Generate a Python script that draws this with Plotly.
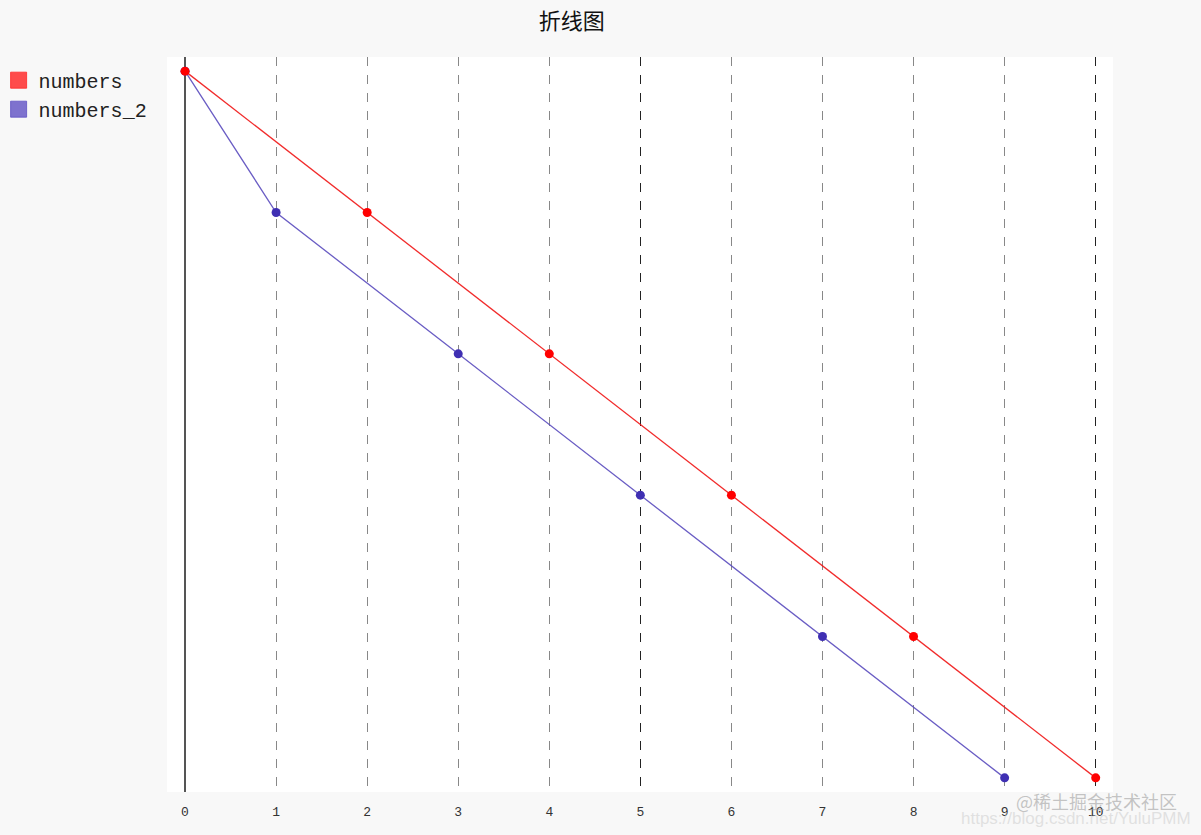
import plotly.graph_objects as go

# ---------- data ----------
title_text = "折线图"
series_names = ["numbers", "numbers_2"]
numbers_x = [0, 2, 4, 6, 8, 10]
numbers_y = [10, 8, 6, 4, 2, 0]
numbers_2_x = [0, 1, 3, 5, 7, 9]
numbers_2_y = [10, 8, 6, 4, 2, 0]
x_ticks = list(range(0, 11))
watermark_lines = ["@稀土掘金技术社区", "https://blog.csdn.net/YuluPMM"]

mono = "Liberation Mono"
red = "#ff0000"
blue = "#3f2fb3"

fig = go.Figure()

# blue first so the red point sits on top at the shared start
fig.add_trace(go.Scatter(
    x=numbers_2_x, y=numbers_2_y, mode="lines+markers", showlegend=False,
    line=dict(color="rgba(90,75,190,0.9)", width=1.3),
    marker=dict(color=blue, size=9),
))
fig.add_trace(go.Scatter(
    x=numbers_x, y=numbers_y, mode="lines+markers", showlegend=False,
    line=dict(color="rgba(240,20,20,0.9)", width=1.3),
    marker=dict(color=red, size=9),
))

# legend entries drawn as squares, like the original
for name, col, grp in [(series_names[0], "rgba(255,45,45,0.85)", "a"),
                       (series_names[1], "rgba(95,80,195,0.8)", "b")]:
    fig.add_trace(go.Scatter(
        x=[None], y=[None], mode="markers", name=name, legendgroup=grp,
        marker=dict(symbol="square", size=19, color=col,
                    line=dict(color=col, width=1)),
    ))

# dummy trace on the overlay axis so its major grid shows
fig.add_trace(go.Scatter(x=[0, 10], y=[0, 10], xaxis="x2", mode="none",
                         showlegend=False, hoverinfo="skip"))

fig.update_layout(
    width=1201, height=835,
    paper_bgcolor="#f8f8f8", plot_bgcolor="white",
    margin=dict(l=167, r=88, t=57, b=43, autoexpand=False),
    title=dict(text=title_text, x=0.476, xanchor="center", y=0.975, yanchor="middle",
               font=dict(family="Noto Sans CJK SC", size=22, color="#111")),
    legend=dict(x=-0.178, xanchor="left", y=0.995, yanchor="top",
                bgcolor="rgba(0,0,0,0)", font=dict(family=mono, size=20, color="#222"),
                tracegroupgap=0, itemwidth=30),
    xaxis=dict(range=[-0.198, 10.19], tickvals=x_ticks, ticktext=[str(v) for v in x_ticks],
               showgrid=True, gridcolor="#888", griddash="dash", gridwidth=1,
               zeroline=True, zerolinecolor="#555", zerolinewidth=1.5,
               showline=False, ticks="", ticklabelstandoff=10,
               tickfont=dict(family=mono, size=13, color="#333")),
    xaxis2=dict(range=[-0.198, 10.19], overlaying="x", tickvals=[5, 10],
                showticklabels=False, showgrid=True, gridcolor="#222",
                griddash="dash", gridwidth=1.3, zeroline=False),
    yaxis=dict(range=[-0.2, 10.2], showgrid=False, zeroline=False,
               showticklabels=False, ticks=""),
)

fig.add_annotation(text=watermark_lines[0], xref="paper", yref="paper",
                   x=1.07, y=-0.012, xanchor="right", yanchor="middle", showarrow=False,
                   font=dict(family="Noto Sans CJK SC", size=18, color="rgba(150,150,150,0.55)"))
fig.add_annotation(text=watermark_lines[1], xref="paper", yref="paper",
                   x=1.085, y=-0.036, xanchor="right", yanchor="middle", showarrow=False,
                   font=dict(family="Liberation Sans", size=17, color="rgba(200,200,200,0.5)"))

fig.write_html(
    "out.html",
    config={"displayModeBar": False},
    post_script="document.body.style.margin='0';document.body.style.background='#f8f8f8';",
)
